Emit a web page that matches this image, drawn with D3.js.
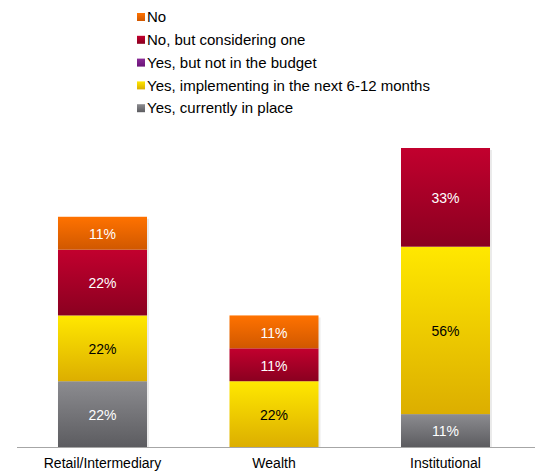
<!DOCTYPE html>
<html>
<head>
<meta charset="utf-8">
<script src="https://cdn.jsdelivr.net/npm/d3@7"></script>
<style>
  body { margin: 0; background: #fff; }
  svg { font-family: "Liberation Sans", Arial, sans-serif; }
</style>
</head>
<body>
<div id="chart"></div>
<script>
// data
var categories = ["Retail/Intermediary", "Wealth", "Institutional"];
var seriesNames = ["Yes, currently in place", "Yes, implementing in the next 6-12 months", "Yes, but not in the budget", "No, but considering one", "No"];
var currentlyInPlace = [22, 0, 11];
var implementingSoon = [22, 22, 56];
var notInBudget = [0, 0, 0];
var consideringOne = [22, 11, 33];
var noValues = [11, 11, 0];

var seriesValues = [currentlyInPlace, implementingSoon, notInBudget, consideringOne, noValues];
// legend order is top -> bottom, reversed from stacking
var legendOrder = ["No", "No, but considering one", "Yes, but not in the budget", "Yes, implementing in the next 6-12 months", "Yes, currently in place"];

var colors = {
  "Yes, currently in place": ["#8c8c90", "#5c5c60"],
  "Yes, implementing in the next 6-12 months": ["#ffe800", "#dcae00"],
  "Yes, but not in the budget": ["#8a2a96", "#6a1478"],
  "No, but considering one": ["#c2002e", "#8a0020"],
  "No": ["#ff7200", "#d05800"]
};
var labelColor = {
  "Yes, implementing in the next 6-12 months": "#000"
};

var width = 535, height = 471;
var margin = { top: 148, right: 4, bottom: 24, left: 17 };

var table = categories.map(function(c, i) {
  var row = { category: c };
  seriesNames.forEach(function(s, j) { row[s] = seriesValues[j][i]; });
  return row;
});

var stacked = d3.stack().keys(seriesNames)(table);

var svg = d3.select("#chart").append("svg")
  .attr("width", width)
  .attr("height", height);

var defs = svg.append("defs");
seriesNames.forEach(function(s, i) {
  var g = defs.append("linearGradient")
    .attr("id", "grad" + i)
    .attr("x1", 0).attr("y1", 0).attr("x2", 0).attr("y2", 1);
  g.append("stop").attr("offset", "0%").attr("stop-color", colors[s][0]);
  g.append("stop").attr("offset", "100%").attr("stop-color", colors[s][1]);
});

var x = d3.scaleBand()
  .domain(categories)
  .range([margin.left, width - margin.right])
  .paddingInner(0.481)
  .paddingOuter(0.239);

var y = d3.scaleLinear()
  .domain([0, 100])
  .range([height - margin.bottom, height - margin.bottom - 299]);

// shadows
svg.append("g").selectAll("rect")
  .data(table)
  .join("rect")
    .attr("x", d => x(d.category) + 2)
    .attr("y", d => y(d3.sum(seriesNames, s => d[s])) + 2)
    .attr("width", x.bandwidth())
    .attr("height", d => y(0) - y(d3.sum(seriesNames, s => d[s])) - 2)
    .attr("fill", "#000")
    .attr("opacity", 0.08);

var layers = svg.append("g").selectAll("g")
  .data(stacked)
  .join("g")
    .attr("fill", (d, i) => "url(#grad" + i + ")");

layers.selectAll("rect")
  .data(d => d.filter(p => p[1] - p[0] > 0))
  .join("rect")
    .attr("x", d => x(d.data.category))
    .attr("y", d => y(d[1]))
    .attr("width", x.bandwidth())
    .attr("height", d => y(d[0]) - y(d[1]));

// value labels
stacked.forEach(function(layer) {
  svg.append("g").selectAll("text")
    .data(layer.filter(p => p[1] - p[0] > 0))
    .join("text")
      .attr("x", d => x(d.data.category) + x.bandwidth() / 2)
      .attr("y", d => (y(d[0]) + y(d[1])) / 2 + 1)
      .attr("dy", "0.35em")
      .attr("text-anchor", "middle")
      .attr("font-size", 14)
      .attr("fill", labelColor[layer.key] || "#fff")
      .text(d => (d[1] - d[0]) + "%");
});

// x axis
var axis = svg.append("g")
  .attr("transform", "translate(0," + y(0) + ")")
  .call(d3.axisBottom(x).tickSize(0).tickPadding(11));
axis.select(".domain").attr("stroke", "#a6a6a6").attr("d", "M" + margin.left + ",0.5H" + width);
axis.selectAll("text")
  .attr("font-size", 14)
  .attr("font-family", "Liberation Sans, Arial, sans-serif")
  .attr("fill", "#000");

// legend
var legend = svg.append("g").attr("transform", "translate(137,17)");
var item = legend.selectAll("g")
  .data(legendOrder)
  .join("g")
    .attr("transform", (d, i) => "translate(0," + i * 22.8 + ")");
item.append("rect")
  .attr("x", 0).attr("y", -4)
  .attr("width", 8).attr("height", 8)
  .attr("fill", d => "url(#grad" + seriesNames.indexOf(d) + ")");
item.append("text")
  .attr("x", 10)
  .attr("dy", "0.35em")
  .attr("font-size", 15)
  .attr("fill", "#000")
  .text(d => d);
</script>
</body>
</html>
